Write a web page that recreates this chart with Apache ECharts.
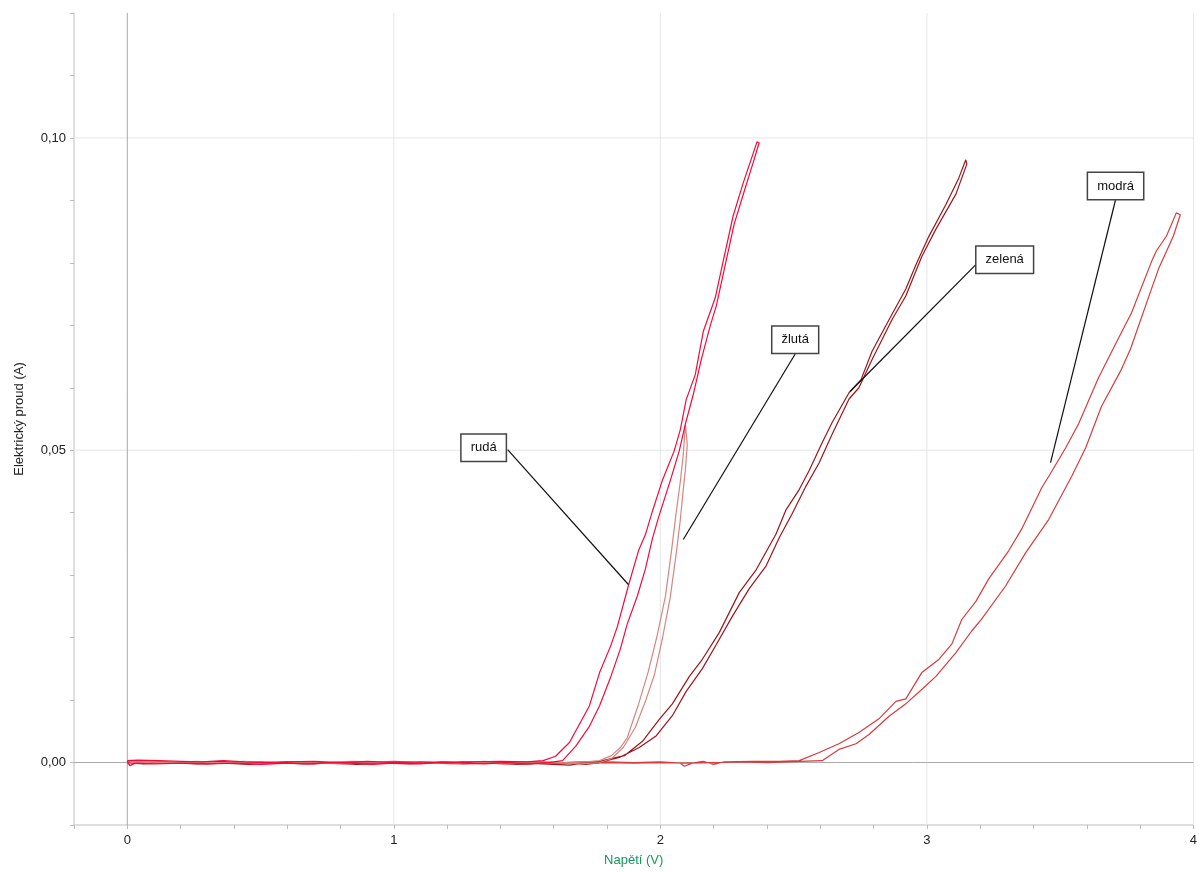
<!DOCTYPE html>
<html><head><meta charset="utf-8">
<script src="https://cdn.jsdelivr.net/npm/echarts@6/dist/echarts.min.js"></script>
<style>html,body{margin:0;padding:0;background:#fff}#c{width:1200px;height:872px}</style>
</head><body><div id="c"></div>
<script>
// ---- axis ranges, tick labels / grid values ----
const xRange = [-0.2, 4];
const yRange = [-0.01, 0.12];
const xLabelValues = [0, 1, 2, 3, 4];
const yLabelValues = [0, 0.05, 0.10];
const xGridValues = [1, 2, 3, 4];
const yGridValues = [0.05, 0.10];

// ---- series (Napětí V, Proud A) ----
const rudaBaseFwd = [[0,0.0003],[0.04,0.0004],[0.12,0.0003],[0.2,0.0002],[0.28,0.0001],[0.36,0.0003],[0.44,0.0001],[0.52,0.0000],[0.6,0.0001],[0.7,0.0002],[0.8,0.0000],[0.9,0.0002],[1.0,0.0000],[1.1,0.0001],[1.2,-0.0001],[1.3,0.0001],[1.4,0.0002],[1.5,0.0001],[1.56,0.0003]];
const rudaUp = [[1.607,0.0010],[1.659,0.0032],[1.700,0.0064],[1.734,0.0091],[1.772,0.0144],[1.813,0.0186],[1.839,0.0218],[1.880,0.0283],[1.918,0.0339],[1.944,0.0365],[1.970,0.0402],[2.007,0.0451],[2.052,0.0499],[2.075,0.0533],[2.097,0.0581],[2.131,0.0621],[2.161,0.0690],[2.206,0.0744],[2.236,0.0803],[2.273,0.0875],[2.311,0.0928],[2.341,0.0966],[2.363,0.0994],[2.371,0.0992]];
const rudaDown = [[2.367,0.0987],[2.348,0.0960],[2.315,0.0915],[2.277,0.0862],[2.240,0.0790],[2.210,0.0731],[2.187,0.0699],[2.154,0.0646],[2.124,0.0590],[2.094,0.0542],[2.071,0.0499],[2.037,0.0451],[1.993,0.0392],[1.970,0.0358],[1.944,0.0310],[1.914,0.0267],[1.876,0.0222],[1.850,0.0182],[1.813,0.0136],[1.772,0.0091],[1.734,0.0058],[1.682,0.0026],[1.633,0.0003]];
const rudaBaseBack = [[1.58,0.0000],[1.5,-0.0002],[1.42,0.0000],[1.34,-0.0002],[1.26,-0.0001],[1.18,0.0001],[1.1,-0.0002],[1.0,-0.0001],[0.92,-0.0003],[0.84,-0.0001],[0.76,0.0000],[0.68,-0.0002],[0.6,-0.0001],[0.5,-0.0003],[0.4,-0.0001],[0.3,-0.0002],[0.2,-0.0001],[0.1,-0.0002],[0.03,-0.0001],[0.01,-0.0005],[0,0.0002]];

const zlutaBaseFwd = [[0,0.0001],[0.08,0.0002],[0.16,0.0000],[0.26,0.0002],[0.34,0.0000],[0.44,0.0002],[0.54,-0.0001],[0.64,0.0001],[0.74,0.0000],[0.84,0.0002],[0.94,0.0001],[1.04,-0.0001],[1.14,0.0001],[1.24,0.0000],[1.34,0.0002],[1.44,0.0000],[1.54,0.0002],[1.64,0.0000],[1.72,0.0001]];
const zlutaUp = [[1.772,0.0003],[1.816,0.0011],[1.850,0.0024],[1.876,0.0040],[1.918,0.0093],[1.955,0.0146],[1.989,0.0205],[2.019,0.0266],[2.041,0.0336],[2.060,0.0402],[2.075,0.0450],[2.086,0.0493],[2.094,0.0541],[2.101,0.0544]];
const zlutaDown = [[2.101,0.0542],[2.101,0.0509],[2.094,0.0469],[2.086,0.0437],[2.075,0.0389],[2.060,0.0336],[2.037,0.0264],[2.007,0.0197],[1.978,0.0141],[1.944,0.0098],[1.906,0.0056],[1.861,0.0024],[1.816,0.0006],[1.772,0.0000]];
const zlutaBaseBack = [[1.7,-0.0002],[1.62,0.0000],[1.52,-0.0001],[1.42,-0.0002],[1.32,0.0000],[1.22,-0.0002],[1.12,0.0000],[1.02,-0.0001],[0.92,0.0000],[0.82,-0.0002],[0.72,-0.0001],[0.62,0.0000],[0.52,-0.0002],[0.42,0.0000],[0.32,-0.0001],[0.22,0.0000],[0.12,-0.0001],[0.02,0.0000],[0,-0.0003]];

const zelenaBaseFwd = [[0,-0.0001],[0.06,0.0001],[0.16,-0.0001],[0.26,0.0000],[0.36,0.0002],[0.46,-0.0002],[0.56,-0.0001],[0.66,0.0000],[0.76,-0.0001],[0.86,0.0001],[0.96,-0.0001],[1.06,0.0000],[1.16,-0.0001],[1.26,0.0001],[1.36,-0.0001],[1.46,0.0000],[1.56,-0.0002],[1.66,-0.0004],[1.72,0.0000]];
const zelenaUp = [[1.772,0.0002],[1.865,0.0011],[1.933,0.0034],[1.996,0.0069],[2.045,0.0094],[2.109,0.0138],[2.154,0.0163],[2.221,0.0208],[2.296,0.0272],[2.360,0.0309],[2.434,0.0366],[2.472,0.0405],[2.521,0.0437],[2.558,0.0467],[2.607,0.0512],[2.644,0.0544],[2.708,0.0592],[2.753,0.0613],[2.794,0.0658],[2.858,0.0709],[2.921,0.0758],[2.959,0.0797],[3.007,0.0842],[3.071,0.0893],[3.120,0.0936],[3.146,0.0965]];
const zelenaDown = [[3.150,0.0958],[3.109,0.0910],[3.034,0.0854],[2.981,0.0810],[2.921,0.0747],[2.869,0.0709],[2.794,0.0645],[2.745,0.0600],[2.708,0.0582],[2.644,0.0525],[2.596,0.0480],[2.547,0.0443],[2.494,0.0398],[2.446,0.0360],[2.397,0.0315],[2.333,0.0278],[2.270,0.0234],[2.210,0.0189],[2.157,0.0150],[2.097,0.0114],[2.045,0.0075],[1.985,0.0043],[1.921,0.0024],[1.846,0.0008],[1.772,0.0000]];
const zelenaBaseBack = [[1.72,-0.0003],[1.64,0.0000],[1.56,-0.0001],[1.46,-0.0003],[1.36,-0.0001],[1.26,-0.0002],[1.16,0.0000],[1.06,-0.0002],[0.96,-0.0001],[0.86,-0.0003],[0.76,-0.0001],[0.66,-0.0002],[0.56,0.0000],[0.46,-0.0003],[0.36,-0.0001],[0.26,-0.0002],[0.16,0.0000],[0.06,-0.0002],[0,0.0000]];

const modraBaseFwd = [[0,0.0001],[0.1,0.0002],[0.2,0.0000],[0.3,0.0001],[0.4,-0.0001],[0.5,0.0001],[0.6,0.0000],[0.7,-0.0002],[0.8,0.0001],[0.9,0.0000],[1.0,0.0002],[1.1,0.0000],[1.2,-0.0001],[1.3,0.0001],[1.4,0.0000],[1.5,0.0001],[1.6,-0.0001],[1.7,0.0001],[1.8,0.0001],[1.9,0.0000],[2.0,0.0001],[2.075,-0.0001],[2.09,-0.0006],[2.12,-0.0001],[2.16,0.0002],[2.20,-0.0003],[2.24,0.0001],[2.35,0.0002],[2.446,0.0002]];
const modraUp = [[2.521,0.0003],[2.596,0.0016],[2.670,0.0030],[2.745,0.0048],[2.820,0.0070],[2.884,0.0098],[2.921,0.0102],[2.981,0.0144],[3.045,0.0165],[3.094,0.0190],[3.131,0.0229],[3.184,0.0258],[3.232,0.0294],[3.307,0.0339],[3.356,0.0374],[3.431,0.0440],[3.457,0.0458],[3.521,0.0504],[3.569,0.0542],[3.644,0.0616],[3.708,0.0670],[3.768,0.0720],[3.843,0.0802],[3.861,0.0819],[3.899,0.0843],[3.936,0.0880]];
const modraDown = [[3.951,0.0877],[3.925,0.0843],[3.869,0.0790],[3.831,0.0744],[3.764,0.0662],[3.727,0.0627],[3.655,0.0570],[3.596,0.0504],[3.543,0.0458],[3.457,0.0389],[3.371,0.0336],[3.296,0.0283],[3.206,0.0230],[3.169,0.0211],[3.109,0.0176],[3.034,0.0138],[2.996,0.0123],[2.921,0.0094],[2.858,0.0074],[2.783,0.0045],[2.734,0.0030],[2.670,0.0021],[2.607,0.0003],[2.521,0.0002]];
const modraBaseBack = [[2.4,0.0000],[2.3,0.0001],[2.2,0.0000],[2.1,-0.0001],[2.0,0.0000],[1.9,-0.0001],[1.8,0.0000],[1.7,-0.0001],[1.6,0.0000],[1.5,-0.0002],[1.4,0.0000],[1.3,-0.0001],[1.2,0.0001],[1.1,-0.0001],[1.0,0.0000],[0.9,-0.0002],[0.8,0.0000],[0.7,-0.0001],[0.6,0.0001],[0.5,-0.0001],[0.4,0.0000],[0.3,-0.0002],[0.2,0.0000],[0.1,-0.0001],[0,0.0000]];

// ---- annotations (data coordinates) ----
const annotations = [
  {name: 'rudá',   box: [1.337, 0.0504], from: [1.427, 0.0501], to: [1.880, 0.0285]},
  {name: 'žlutá',  box: [2.506, 0.0677], from: [2.506, 0.0654], to: [2.086, 0.0357]},
  {name: 'zelená', box: [3.292, 0.0805], from: [3.195, 0.0802], to: [2.712, 0.0594]},
  {name: 'modrá',  box: [3.708, 0.0923], from: [3.708, 0.0901], to: [3.464, 0.0480]}
];

const seriesDefs = [
  {name: 'modrá',  color: '#d93a3c', data: [].concat(modraBaseFwd, modraUp, modraDown, modraBaseBack)},
  {name: 'zelená', color: '#9e1418', data: [].concat(zelenaBaseFwd, zelenaUp, zelenaDown, zelenaBaseBack)},
  {name: 'žlutá',  color: '#d6867f', data: [].concat(zlutaBaseFwd, zlutaUp, zlutaDown, zlutaBaseBack)},
  {name: 'rudá',   color: '#f5093a', data: [].concat(rudaBaseFwd, rudaUp, rudaDown, rudaBaseBack)}
];

const FONT = 'Liberation Sans, Arial, sans-serif';
function near(v, arr) { return arr.some(a => Math.abs(a - v) < 1e-6); }

function refLine(points, color) {
  return {
    type: 'line', data: points, z: 1, silent: true, animation: false,
    showSymbol: false, symbol: 'none', clip: true,
    lineStyle: {color: color, width: 1}
  };
}

const series = [];
// grid lines
xGridValues.forEach(v => series.push(refLine([[v, yRange[0]], [v, yRange[1]]], '#e6e6e6')));
yGridValues.forEach(v => series.push(refLine([[xRange[0], v], [xRange[1], v]], '#e6e6e6')));
// zero lines
series.push(refLine([[0, yRange[0]], [0, yRange[1]]], '#a9a9a9'));
series.push(refLine([[xRange[0], 0], [xRange[1], 0]], '#a9a9a9'));

seriesDefs.forEach(s => {
  series.push({
    name: s.name, type: 'line', data: s.data, showSymbol: false, symbol: 'none',
    smooth: false, z: 3, animation: false,
    lineStyle: {color: s.color, width: 1.2}
  });
});
// annotations
series.push({
  type: 'line', data: [], z: 6, silent: true,
  markLine: {
    silent: true, symbol: 'none', animation: false,
    label: {show: false},
    lineStyle: {color: '#111', width: 1.2, type: 'solid'},
    data: annotations.map(a => [{coord: a.from}, {coord: a.to}])
  },
  markPoint: {
    silent: true, animation: false, symbol: 'rect', symbolSize: 1,
    itemStyle: {color: 'rgba(0,0,0,0)'},
    label: {
      show: true, position: 'inside', color: '#111', fontSize: 13, fontFamily: FONT,
      backgroundColor: '#fff', borderColor: '#444', borderWidth: 1.5,
      padding: [6, 9, 6, 9], lineHeight: 14,
      formatter: p => p.name
    },
    data: annotations.map(a => ({name: a.name, coord: a.box}))
  }
});

const chart = echarts.init(document.getElementById('c'), null, {renderer: 'canvas'});
chart.setOption({
  backgroundColor: '#fff',
  animation: false,
  grid: {left: 74, right: 5, top: 13, bottom: 46, containLabel: false},
  xAxis: {
    type: 'value', min: xRange[0], max: xRange[1], interval: 0.2,
    name: 'Napětí (V)', nameLocation: 'middle', nameGap: 29,
    nameTextStyle: {color: '#14995a', fontSize: 13, fontFamily: FONT},
    axisLine: {show: true, onZero: false, lineStyle: {color: '#d4d4d4', width: 1.5}},
    axisTick: {show: true, length: 4, lineStyle: {color: '#bbb'}},
    axisLabel: {
      interval: 0, color: '#222', fontSize: 13, fontFamily: FONT, margin: 9,
      showMinLabel: true, showMaxLabel: true,
      formatter: v => near(v, xLabelValues) ? String(Math.round(v)) : ''
    },
    splitLine: {show: false}
  },
  yAxis: {
    type: 'value', min: yRange[0], max: yRange[1], interval: 0.01,
    name: 'Elektrický proud (A)', nameLocation: 'middle', nameGap: 48,
    nameTextStyle: {color: '#222', fontSize: 13, fontFamily: FONT},
    axisLine: {show: true, onZero: false, lineStyle: {color: '#d4d4d4', width: 1.5}},
    axisTick: {show: true, length: 4, lineStyle: {color: '#bbb'}},
    axisLabel: {
      interval: 0, color: '#222', fontSize: 13, fontFamily: FONT, margin: 8,
      showMinLabel: true, showMaxLabel: true,
      formatter: v => near(v, yLabelValues) ? v.toFixed(2).replace('.', ',') : ''
    },
    splitLine: {show: false}
  },
  series: series
});
</script></body></html>
